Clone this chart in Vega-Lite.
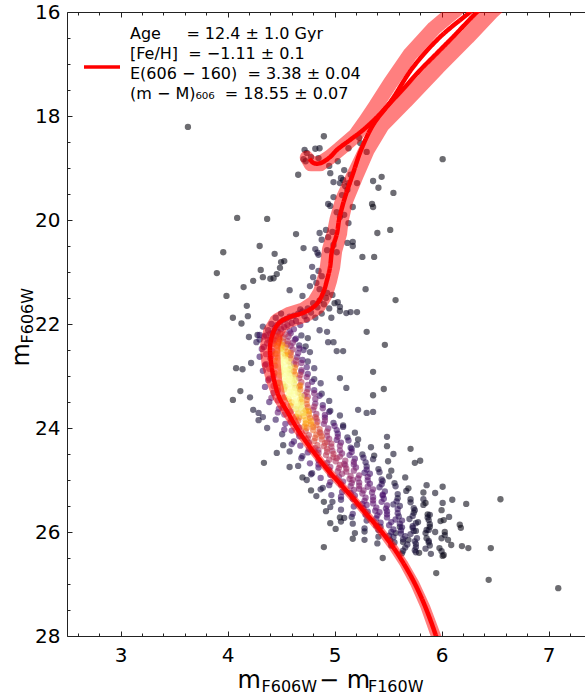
{
"$schema":"https://vega.github.io/schema/vega-lite/v6.json",
"width":518,"height":624,
"autosize":{"type":"none"},
"padding":{"left":67,"top":12,"right":0,"bottom":57},
"background":"white",
"config":{
 "font":"DejaVu Sans",
 "view":{"stroke":null},
 "style":{"guide-label":{"lineHeight":20}},
 "axis":{"grid":false,"domainColor":"#222","domainWidth":1,"tickColor":"#222","tickWidth":1,"labelFont":"DejaVu Sans","labelFontSize":20,"labelColor":"#000","titleFont":"DejaVu Sans","titleColor":"#000","titleFontWeight":"normal"},
 "legend":{"labelFont":"DejaVu Sans","labelColor":"#000"}
},
"datasets":{
"stars":[
{"c":3.63,"m":18.21,"d":0.01},{"c":4.09,"m":19.96,"d":0.01},{"c":3.96,"m":20.62,"d":0.01},{"c":3.90,"m":21.02,"d":0.01},{"c":3.99,"m":21.46,"d":0.01},{"c":4.15,"m":21.29,"d":0.02},{"c":4.30,"m":20.50,"d":0.02},{"c":4.37,"m":19.98,"d":0.01},{"c":4.53,"m":20.79,"d":0.03},{"c":4.49,"m":20.92,"d":0.03},{"c":4.40,"m":21.13,"d":0.03},{"c":4.31,"m":20.96,"d":0.02},{"c":4.33,"m":21.10,"d":0.02},{"c":4.24,"m":21.17,"d":0.02},{"c":4.64,"m":20.27,"d":0.03},{"c":4.18,"m":21.65,"d":0.03},{"c":4.19,"m":21.85,"d":0.04},{"c":4.05,"m":21.88,"d":0.02},{"c":4.13,"m":21.99,"d":0.03},{"c":4.20,"m":22.25,"d":0.05},{"c":4.28,"m":22.21,"d":0.07},{"c":4.22,"m":22.75,"d":0.06},{"c":4.08,"m":22.85,"d":0.03},{"c":4.14,"m":22.87,"d":0.04},{"c":4.12,"m":23.29,"d":0.03},{"c":4.05,"m":23.46,"d":0.02},{"c":4.21,"m":23.41,"d":0.05},{"c":4.24,"m":23.65,"d":0.06},{"c":4.29,"m":23.71,"d":0.08},{"c":4.33,"m":23.79,"d":0.09},{"c":4.37,"m":24.0,"d":0.08},{"c":4.29,"m":23.85,"d":0.07},{"c":4.34,"m":24.67,"d":0.03},{"c":4.46,"m":24.48,"d":0.05},{"c":4.58,"m":24.75,"d":0.05},{"c":4.44,"m":20.65,"d":0.03},{"c":4.50,"m":20.81,"d":0.03},{"c":4.46,"m":21.04,"d":0.03},{"c":4.43,"m":21.12,"d":0.03},{"c":4.58,"m":21.35,"d":0.05},{"c":4.70,"m":21.46,"d":0.06},
{"c":4.70,"m":24.95,"d":0.04},{"c":4.78,"m":25.2,"d":0.03},{"c":4.90,"m":25.42,"d":0.03},{"c":5.05,"m":25.72,"d":0.03},{"c":4.52,"m":24.33,"d":0.05},{"c":4.90,"m":26.29,"d":0.02},{"c":4.96,"m":25.83,"d":0.03},
{"c":4.90,"m":18.39,"d":0.02},{"c":4.72,"m":18.65,"d":0.04},{"c":4.74,"m":18.71,"d":0.05},{"c":4.82,"m":18.63,"d":0.04},{"c":4.86,"m":18.62,"d":0.04},{"c":4.71,"m":18.83,"d":0.06},{"c":4.73,"m":18.87,"d":0.06},{"c":4.78,"m":18.79,"d":0.05},{"c":5.03,"m":18.87,"d":0.03},{"c":4.95,"m":18.96,"d":0.04},{"c":4.66,"m":19.13,"d":0.02},{"c":4.96,"m":19.10,"d":0.04},{"c":4.85,"m":18.81,"d":0.04},{"c":5.13,"m":18.62,"d":0.03},{"c":5.24,"m":18.52,"d":0.03},{"c":5.23,"m":18.42,"d":0.03},{"c":5.30,"m":18.69,"d":0.03},{"c":6.01,"m":18.83,"d":0.01},{"c":4.99,"m":19.27,"d":0.05},{"c":5.05,"m":19.29,"d":0.05},{"c":5.08,"m":19.23,"d":0.05},{"c":5.13,"m":19.29,"d":0.05},{"c":5.21,"m":19.29,"d":0.04},{"c":5.36,"m":19.25,"d":0.03},{"c":5.44,"m":19.17,"d":0.02},{"c":5.41,"m":19.38,"d":0.02},{"c":5.55,"m":19.48,"d":0.02},{"c":4.99,"m":19.56,"d":0.05},{"c":5.07,"m":19.52,"d":0.05},{"c":5.12,"m":19.42,"d":0.05},{"c":5.09,"m":19.04,"d":0.04},{"c":5.06,"m":19.19,"d":0.05},{"c":5.10,"m":19.35,"d":0.05},{"c":5.15,"m":19.13,"d":0.04},{"c":4.94,"m":19.69,"d":0.05},{"c":4.96,"m":19.73,"d":0.05},{"c":5.35,"m":19.69,"d":0.02},{"c":5.36,"m":19.75,"d":0.02},{"c":5.17,"m":19.75,"d":0.04},{"c":5.02,"m":19.85,"d":0.06},{"c":5.05,"m":19.94,"d":0.06},{"c":5.09,"m":19.90,"d":0.06},{"c":5.13,"m":20.06,"d":0.05},{"c":4.86,"m":20.25,"d":0.06},{"c":4.92,"m":20.19,"d":0.06},{"c":4.94,"m":20.33,"d":0.07},{"c":4.98,"m":20.23,"d":0.07},{"c":4.88,"m":20.38,"d":0.07},{"c":4.71,"m":20.54,"d":0.04},{"c":4.82,"m":20.56,"d":0.07},{"c":4.84,"m":20.63,"d":0.08},{"c":4.85,"m":20.67,"d":0.08},{"c":4.93,"m":20.58,"d":0.08},{"c":4.99,"m":20.48,"d":0.07},{"c":5.02,"m":20.62,"d":0.07},{"c":5.12,"m":20.44,"d":0.05},{"c":5.17,"m":20.50,"d":0.04},{"c":5.17,"m":20.42,"d":0.04},{"c":5.26,"m":20.71,"d":0.03},{"c":5.37,"m":20.71,"d":0.02},{"c":5.40,"m":20.25,"d":0.02},{"c":4.79,"m":20.90,"d":0.08},{"c":4.85,"m":20.98,"d":0.08},{"c":4.80,"m":21.10,"d":0.08},{"c":4.88,"m":21.08,"d":0.08},{"c":4.83,"m":21.21,"d":0.08},{"c":4.77,"m":21.27,"d":0.07},{"c":4.86,"m":21.33,"d":0.08},{"c":4.93,"m":21.40,"d":0.07},{"c":4.98,"m":21.44,"d":0.06},
{"c":5.29,"m":21.33,"d":0.03},{"c":5.21,"m":21.77,"d":0.04},{"c":5.15,"m":21.77,"d":0.05},{"c":5.11,"m":21.79,"d":0.05},{"c":5.03,"m":21.58,"d":0.05},{"c":5.05,"m":21.67,"d":0.05},{"c":5.30,"m":22.15,"d":0.03},{"c":5.36,"m":22.92,"d":0.03},{"c":5.46,"m":23.25,"d":0.02},{"c":5.36,"m":23.37,"d":0.03},{"c":5.02,"m":22.52,"d":0.06},{"c":5.08,"m":22.52,"d":0.05},{"c":4.94,"m":22.35,"d":0.07},{"c":4.99,"m":22.35,"d":0.06},{"c":4.93,"m":22.15,"d":0.07},{"c":4.86,"m":22.12,"d":0.08},{"c":5.05,"m":23.04,"d":0.06},{"c":5.11,"m":23.23,"d":0.06},{"c":5.55,"m":24.5,"d":0.05},{"c":5.49,"m":24.17,"d":0.05},{"c":5.36,"m":23.69,"d":0.05},{"c":5.30,"m":23.71,"d":0.06},{"c":5.22,"m":23.65,"d":0.07},{"c":5.52,"m":20.19,"d":0.01},{"c":5.57,"m":21.54,"d":0.01},{"c":5.47,"m":22.40,"d":0.02},
{"c":6.55,"m":25.37,"d":0.01},{"c":6.23,"m":25.46,"d":0.02},{"c":6.18,"m":25.92,"d":0.02},{"c":6.46,"m":26.31,"d":0.01},{"c":6.44,"m":26.92,"d":0.01},{"c":7.09,"m":27.08,"d":0.01},{"c":5.95,"m":26.79,"d":0.01},{"c":6.02,"m":26.44,"d":0.02},{"c":6.09,"m":26.25,"d":0.02},{"c":5.79,"m":26.40,"d":0.02},{"c":5.45,"m":26.50,"d":0.02},{"c":5.71,"m":24.40,"d":0.02},{"c":5.49,"m":24.35,"d":0.03},{"c":5.75,"m":24.67,"d":0.03},{"c":5.80,"m":24.63,"d":0.03},{"c":5.86,"m":25.10,"d":0.04},{"c":6.01,"m":25.13,"d":0.03},{"c":6.10,"m":25.38,"d":0.03},{"c":6.01,"m":25.44,"d":0.04},{"c":5.94,"m":25.25,"d":0.04},{"c":5.89,"m":25.67,"d":0.05},{"c":6.07,"m":25.71,"d":0.04},{"c":5.88,"m":25.77,"d":0.05},{"c":5.86,"m":25.96,"d":0.05},{"c":5.86,"m":26.12,"d":0.04},{"c":5.94,"m":26.00,"d":0.04},{"c":6.00,"m":26.12,"d":0.04},{"c":6.06,"m":26.15,"d":0.03},{"c":6.19,"m":26.27,"d":0.02},{"c":6.25,"m":26.31,"d":0.02},{"c":5.98,"m":26.31,"d":0.03},{"c":6.01,"m":26.46,"d":0.02},{"c":5.69,"m":26.15,"d":0.05},{"c":5.64,"m":26.19,"d":0.05},{"c":5.76,"m":25.98,"d":0.06},{"c":5.61,"m":25.90,"d":0.07},{"c":5.57,"m":26.02,"d":0.07},{"c":5.83,"m":25.37,"d":0.06},{"c":5.75,"m":25.58,"d":0.07},{"c":5.78,"m":25.81,"d":0.06},
{"c":4.80,"m":21.60,"d":0.08},{"c":4.86,"m":21.55,"d":0.08},{"c":4.92,"m":21.50,"d":0.06},{"c":4.75,"m":21.70,"d":0.1},{"c":4.70,"m":21.76,"d":0.12},{"c":4.66,"m":21.80,"d":0.12},{"c":4.62,"m":21.84,"d":0.14},{"c":4.58,"m":21.86,"d":0.15},{"c":4.55,"m":21.90,"d":0.16},{"c":4.52,"m":21.93,"d":0.18},{"c":4.49,"m":21.97,"d":0.2},{"c":4.46,"m":22.02,"d":0.22},{"c":4.44,"m":22.08,"d":0.22},{"c":4.78,"m":21.78,"d":0.1},{"c":4.72,"m":21.85,"d":0.12},{"c":4.68,"m":21.72,"d":0.1},{"c":4.64,"m":21.94,"d":0.14},{"c":4.60,"m":21.98,"d":0.17},{"c":4.56,"m":22.02,"d":0.2},{"c":4.53,"m":22.06,"d":0.22},{"c":4.50,"m":22.10,"d":0.24},{"c":4.47,"m":22.15,"d":0.25},{"c":4.42,"m":22.18,"d":0.22},{"c":4.38,"m":22.12,"d":0.14},{"c":4.36,"m":22.22,"d":0.16},{"c":4.40,"m":22.30,"d":0.24},{"c":4.90,"m":21.62,"d":0.06},{"c":4.95,"m":21.70,"d":0.05},{"c":4.84,"m":21.68,"d":0.08},{"c":5.00,"m":21.60,"d":0.04},{"c":4.74,"m":21.92,"d":0.12},{"c":4.68,"m":22.02,"d":0.16},{"c":4.62,"m":22.10,"d":0.22},{"c":4.58,"m":22.14,"d":0.26},{"c":4.82,"m":21.88,"d":0.08},{"c":4.88,"m":21.80,"d":0.06},{"c":5.05,"m":21.75,"d":0.04},{"c":4.97,"m":21.88,"d":0.05},{"c":4.45,"m":21.88,"d":0.12},{"c":4.41,"m":22.00,"d":0.14},{"c":4.50,"m":21.80,"d":0.1},{"c":4.33,"m":22.05,"d":0.1},{"c":4.30,"m":22.30,"d":0.12},
{"c":4.30,"m":22.21,"d":0.15},{"c":4.40,"m":22.18,"d":0.33},{"c":4.45,"m":22.23,"d":0.5},{"c":4.49,"m":22.19,"d":0.5},{"c":4.54,"m":22.20,"d":0.43},{"c":4.59,"m":22.18,"d":0.23},{"c":4.69,"m":22.22,"d":0.09},
{"c":4.34,"m":22.24,"d":0.25},{"c":4.43,"m":22.29,"d":0.48},{"c":4.48,"m":22.25,"d":0.56},{"c":4.52,"m":22.26,"d":0.48},{"c":4.57,"m":22.24,"d":0.36},{"c":4.64,"m":22.28,"d":0.17},{"c":4.75,"m":22.27,"d":0.06},
{"c":4.27,"m":22.35,"d":0.11},{"c":4.38,"m":22.31,"d":0.40},{"c":4.44,"m":22.32,"d":0.53},{"c":4.49,"m":22.30,"d":0.62},{"c":4.52,"m":22.34,"d":0.53},{"c":4.56,"m":22.33,"d":0.40},{"c":4.63,"m":22.30,"d":0.19},
{"c":4.37,"m":22.37,"d":0.31},{"c":4.43,"m":22.38,"d":0.58},{"c":4.48,"m":22.36,"d":0.68},{"c":4.51,"m":22.40,"d":0.68},{"c":4.56,"m":22.39,"d":0.44},{"c":4.61,"m":22.36,"d":0.31},{"c":4.67,"m":22.41,"d":0.12},
{"c":4.34,"m":22.44,"d":0.22},{"c":4.46,"m":22.42,"d":0.74},{"c":4.50,"m":22.46,"d":0.74},{"c":4.54,"m":22.45,"d":0.63},{"c":4.59,"m":22.42,"d":0.33},{"c":4.67,"m":22.47,"d":0.22},{"c":4.73,"m":22.43,"d":0.07},
{"c":4.32,"m":22.48,"d":0.24},{"c":4.42,"m":22.52,"d":0.52},{"c":4.47,"m":22.51,"d":0.80},{"c":4.51,"m":22.48,"d":0.80},{"c":4.56,"m":22.53,"d":0.68},{"c":4.61,"m":22.49,"d":0.36},{"c":4.71,"m":22.50,"d":0.14},
{"c":4.36,"m":22.58,"d":0.38},{"c":4.45,"m":22.57,"d":0.71},{"c":4.50,"m":22.54,"d":0.84},{"c":4.54,"m":22.59,"d":0.71},{"c":4.59,"m":22.55,"d":0.55},{"c":4.66,"m":22.56,"d":0.25},{"c":4.77,"m":22.54,"d":0.08},
{"c":4.30,"m":22.63,"d":0.16},{"c":4.41,"m":22.60,"d":0.57},{"c":4.47,"m":22.65,"d":0.75},{"c":4.51,"m":22.61,"d":0.88},{"c":4.54,"m":22.62,"d":0.75},{"c":4.59,"m":22.60,"d":0.57},{"c":4.65,"m":22.64,"d":0.26},
{"c":4.40,"m":22.66,"d":0.41},{"c":4.45,"m":22.71,"d":0.78},{"c":4.50,"m":22.67,"d":0.92},{"c":4.54,"m":22.68,"d":0.92},{"c":4.59,"m":22.66,"d":0.60},{"c":4.64,"m":22.70,"d":0.41},{"c":4.70,"m":22.69,"d":0.17},
{"c":4.36,"m":22.77,"d":0.29},{"c":4.49,"m":22.73,"d":0.96},{"c":4.53,"m":22.74,"d":0.96},{"c":4.57,"m":22.72,"d":0.82},{"c":4.62,"m":22.76,"d":0.43},{"c":4.69,"m":22.75,"d":0.29},{"c":4.75,"m":22.72,"d":0.10},
{"c":4.35,"m":22.79,"d":0.30},{"c":4.45,"m":22.80,"d":0.65},{"c":4.50,"m":22.78,"d":1.0},{"c":4.54,"m":22.82,"d":1.0},{"c":4.59,"m":22.81,"d":0.85},{"c":4.64,"m":22.78,"d":0.45},{"c":4.74,"m":22.83,"d":0.18},
{"c":4.39,"m":22.86,"d":0.45},{"c":4.49,"m":22.84,"d":0.85},{"c":4.53,"m":22.88,"d":1.0},{"c":4.58,"m":22.87,"d":0.85},{"c":4.63,"m":22.84,"d":0.65},{"c":4.69,"m":22.89,"d":0.30},{"c":4.81,"m":22.85,"d":0.10},
{"c":4.33,"m":22.90,"d":0.18},{"c":4.44,"m":22.94,"d":0.65},{"c":4.50,"m":22.93,"d":0.85},{"c":4.55,"m":22.90,"d":1.0},{"c":4.58,"m":22.95,"d":0.85},{"c":4.62,"m":22.91,"d":0.65},{"c":4.69,"m":22.92,"d":0.30},
{"c":4.43,"m":23.00,"d":0.45},{"c":4.49,"m":22.99,"d":0.85},{"c":4.54,"m":22.96,"d":1.0},{"c":4.58,"m":23.01,"d":1.0},{"c":4.63,"m":22.97,"d":0.65},{"c":4.68,"m":22.98,"d":0.45},{"c":4.75,"m":22.96,"d":0.18},
{"c":4.39,"m":23.05,"d":0.30},{"c":4.53,"m":23.02,"d":1.0},{"c":4.57,"m":23.07,"d":1.0},{"c":4.61,"m":23.03,"d":0.85},{"c":4.67,"m":23.04,"d":0.45},{"c":4.74,"m":23.02,"d":0.30},{"c":4.81,"m":23.06,"d":0.10},
{"c":4.38,"m":23.08,"d":0.30},{"c":4.48,"m":23.13,"d":0.65},{"c":4.54,"m":23.09,"d":1.0},{"c":4.59,"m":23.10,"d":1.0},{"c":4.63,"m":23.08,"d":0.85},{"c":4.69,"m":23.12,"d":0.45},{"c":4.79,"m":23.11,"d":0.18},
{"c":4.43,"m":23.19,"d":0.45},{"c":4.52,"m":23.15,"d":0.84},{"c":4.58,"m":23.16,"d":0.99},{"c":4.62,"m":23.14,"d":0.84},{"c":4.68,"m":23.18,"d":0.64},{"c":4.75,"m":23.17,"d":0.30},{"c":4.87,"m":23.14,"d":0.10},
{"c":4.35,"m":23.21,"d":0.18},{"c":4.47,"m":23.22,"d":0.64},{"c":4.54,"m":23.20,"d":0.83},{"c":4.59,"m":23.24,"d":0.98},{"c":4.63,"m":23.23,"d":0.83},{"c":4.67,"m":23.20,"d":0.64},{"c":4.75,"m":23.25,"d":0.29},
{"c":4.47,"m":23.28,"d":0.44},{"c":4.53,"m":23.26,"d":0.82},{"c":4.58,"m":23.30,"d":0.97},{"c":4.62,"m":23.29,"d":0.97},{"c":4.68,"m":23.26,"d":0.63},{"c":4.74,"m":23.31,"d":0.44},{"c":4.81,"m":23.27,"d":0.17},
{"c":4.43,"m":23.32,"d":0.29},{"c":4.57,"m":23.36,"d":0.96},{"c":4.62,"m":23.35,"d":0.96},{"c":4.66,"m":23.32,"d":0.82},{"c":4.72,"m":23.37,"d":0.43},{"c":4.81,"m":23.33,"d":0.29},{"c":4.88,"m":23.34,"d":0.10},
{"c":4.41,"m":23.42,"d":0.29},{"c":4.53,"m":23.41,"d":0.62},{"c":4.59,"m":23.38,"d":0.95},{"c":4.64,"m":23.43,"d":0.95},{"c":4.69,"m":23.39,"d":0.81},{"c":4.75,"m":23.40,"d":0.43},{"c":4.86,"m":23.38,"d":0.17},
{"c":4.47,"m":23.47,"d":0.41},{"c":4.57,"m":23.44,"d":0.78},{"c":4.63,"m":23.49,"d":0.92},{"c":4.68,"m":23.45,"d":0.78},{"c":4.74,"m":23.46,"d":0.60},{"c":4.82,"m":23.44,"d":0.28},{"c":4.95,"m":23.48,"d":0.09},
{"c":4.39,"m":23.50,"d":0.16},{"c":4.52,"m":23.55,"d":0.58},{"c":4.60,"m":23.51,"d":0.76},{"c":4.65,"m":23.52,"d":0.89},{"c":4.69,"m":23.50,"d":0.76},{"c":4.74,"m":23.54,"d":0.58},{"c":4.82,"m":23.53,"d":0.27},
{"c":4.52,"m":23.61,"d":0.39},{"c":4.59,"m":23.57,"d":0.73},{"c":4.65,"m":23.58,"d":0.86},{"c":4.69,"m":23.56,"d":0.86},{"c":4.75,"m":23.60,"d":0.56},{"c":4.81,"m":23.59,"d":0.39},{"c":4.89,"m":23.56,"d":0.15},
{"c":4.48,"m":23.63,"d":0.25},{"c":4.64,"m":23.64,"d":0.83},{"c":4.69,"m":23.62,"d":0.83},{"c":4.73,"m":23.66,"d":0.71},{"c":4.80,"m":23.65,"d":0.37},{"c":4.89,"m":23.62,"d":0.25},{"c":4.96,"m":23.67,"d":0.08},
{"c":4.47,"m":23.70,"d":0.24},{"c":4.59,"m":23.68,"d":0.52},{"c":4.66,"m":23.72,"d":0.80},{"c":4.71,"m":23.71,"d":0.80},{"c":4.76,"m":23.68,"d":0.68},{"c":4.83,"m":23.73,"d":0.36},{"c":4.95,"m":23.69,"d":0.14},
{"c":4.53,"m":23.74,"d":0.34},{"c":4.64,"m":23.78,"d":0.65},{"c":4.71,"m":23.77,"d":0.76},{"c":4.76,"m":23.74,"d":0.65},{"c":4.82,"m":23.79,"d":0.49},{"c":4.91,"m":23.75,"d":0.23},{"c":5.05,"m":23.76,"d":0.08},
{"c":4.45,"m":23.84,"d":0.13},{"c":4.59,"m":23.83,"d":0.47},{"c":4.67,"m":23.80,"d":0.62},{"c":4.73,"m":23.85,"d":0.73},{"c":4.77,"m":23.81,"d":0.62},{"c":4.83,"m":23.82,"d":0.47},{"c":4.91,"m":23.80,"d":0.22},
{"c":4.59,"m":23.89,"d":0.31},{"c":4.66,"m":23.86,"d":0.59},{"c":4.73,"m":23.91,"d":0.69},{"c":4.78,"m":23.87,"d":0.69},{"c":4.84,"m":23.88,"d":0.45},{"c":4.91,"m":23.86,"d":0.31},{"c":4.99,"m":23.90,"d":0.12},
{"c":4.54,"m":23.92,"d":0.20},{"c":4.72,"m":23.97,"d":0.66},{"c":4.78,"m":23.93,"d":0.66},{"c":4.83,"m":23.94,"d":0.56},{"c":4.90,"m":23.92,"d":0.30},{"c":5.00,"m":23.96,"d":0.20},{"c":5.08,"m":23.95,"d":0.07},
{"c":4.53,"m":24.03,"d":0.19},{"c":4.67,"m":23.99,"d":0.40},{"c":4.74,"m":24.00,"d":0.62},{"c":4.80,"m":23.98,"d":0.62},{"c":4.86,"m":24.02,"d":0.53},{"c":4.94,"m":24.01,"d":0.28},{"c":5.08,"m":23.98,"d":0.11},
{"c":4.60,"m":24.05,"d":0.27},{"c":4.73,"m":24.06,"d":0.51},{"c":4.80,"m":24.04,"d":0.60},{"c":4.86,"m":24.08,"d":0.51},{"c":4.93,"m":24.07,"d":0.39},{"c":5.02,"m":24.04,"d":0.18},{"c":5.19,"m":24.09,"d":0.06},
{"c":4.51,"m":24.12,"d":0.10},{"c":4.67,"m":24.10,"d":0.37},{"c":4.76,"m":24.14,"d":0.48},{"c":4.83,"m":24.13,"d":0.57},{"c":4.87,"m":24.10,"d":0.48},{"c":4.93,"m":24.15,"d":0.37},{"c":5.03,"m":24.11,"d":0.17},
{"c":4.67,"m":24.16,"d":0.25},{"c":4.75,"m":24.20,"d":0.47},{"c":4.82,"m":24.19,"d":0.55},{"c":4.88,"m":24.16,"d":0.55},{"c":4.95,"m":24.21,"d":0.36},{"c":5.03,"m":24.17,"d":0.25},{"c":5.12,"m":24.18,"d":0.10},
{"c":4.62,"m":24.26,"d":0.16},{"c":4.81,"m":24.25,"d":0.52},{"c":4.88,"m":24.22,"d":0.52},{"c":4.93,"m":24.27,"d":0.44},{"c":5.02,"m":24.23,"d":0.23},{"c":5.13,"m":24.24,"d":0.16},{"c":5.22,"m":24.22,"d":0.05},
{"c":4.60,"m":24.31,"d":0.15},{"c":4.76,"m":24.28,"d":0.33},{"c":4.84,"m":24.33,"d":0.50},{"c":4.91,"m":24.29,"d":0.50},{"c":4.97,"m":24.30,"d":0.43},{"c":5.06,"m":24.28,"d":0.23},{"c":5.21,"m":24.32,"d":0.09},
{"c":4.68,"m":24.34,"d":0.22},{"c":4.82,"m":24.39,"d":0.41},{"c":4.90,"m":24.35,"d":0.48},{"c":4.97,"m":24.36,"d":0.41},{"c":5.05,"m":24.34,"d":0.31},{"c":5.15,"m":24.38,"d":0.14},{"c":5.34,"m":24.37,"d":0.05},
{"c":4.58,"m":24.45,"d":0.08},{"c":4.76,"m":24.41,"d":0.31},{"c":4.85,"m":24.42,"d":0.40},{"c":4.93,"m":24.40,"d":0.47},{"c":4.98,"m":24.44,"d":0.40},{"c":5.05,"m":24.43,"d":0.31},{"c":5.16,"m":24.40,"d":0.14},
{"c":4.75,"m":24.47,"d":0.20},{"c":4.85,"m":24.48,"d":0.38},{"c":4.93,"m":24.46,"d":0.45},{"c":4.99,"m":24.50,"d":0.45},{"c":5.07,"m":24.49,"d":0.29},{"c":5.16,"m":24.46,"d":0.20},{"c":5.26,"m":24.51,"d":0.08},
{"c":4.70,"m":24.54,"d":0.13},{"c":4.92,"m":24.52,"d":0.44},{"c":4.99,"m":24.56,"d":0.44},{"c":5.05,"m":24.55,"d":0.37},{"c":5.14,"m":24.52,"d":0.20},{"c":5.27,"m":24.57,"d":0.13},{"c":5.37,"m":24.53,"d":0.04},
{"c":4.69,"m":24.58,"d":0.13},{"c":4.85,"m":24.62,"d":0.27},{"c":4.95,"m":24.61,"d":0.42},{"c":5.02,"m":24.58,"d":0.42},{"c":5.10,"m":24.63,"d":0.36},{"c":5.19,"m":24.59,"d":0.19},{"c":5.36,"m":24.60,"d":0.08},
{"c":4.77,"m":24.68,"d":0.18},{"c":4.93,"m":24.67,"d":0.35},{"c":5.01,"m":24.64,"d":0.41},{"c":5.09,"m":24.69,"d":0.35},{"c":5.18,"m":24.65,"d":0.27},{"c":5.29,"m":24.66,"d":0.12},{"c":5.50,"m":24.64,"d":0.04},
{"c":4.66,"m":24.73,"d":0.07},{"c":4.85,"m":24.70,"d":0.26},{"c":4.96,"m":24.75,"d":0.34},{"c":5.05,"m":24.71,"d":0.40},{"c":5.10,"m":24.72,"d":0.34},{"c":5.18,"m":24.70,"d":0.26},{"c":5.30,"m":24.74,"d":0.12},
{"c":4.85,"m":24.76,"d":0.17},{"c":4.95,"m":24.81,"d":0.32},{"c":5.04,"m":24.77,"d":0.38},{"c":5.11,"m":24.78,"d":0.38},{"c":5.20,"m":24.76,"d":0.25},{"c":5.30,"m":24.80,"d":0.17},{"c":5.41,"m":24.79,"d":0.07},
{"c":4.79,"m":24.87,"d":0.11},{"c":5.03,"m":24.83,"d":0.37},{"c":5.11,"m":24.84,"d":0.37},{"c":5.18,"m":24.82,"d":0.31},{"c":5.28,"m":24.86,"d":0.17},{"c":5.42,"m":24.85,"d":0.11},{"c":5.53,"m":24.82,"d":0.04},
{"c":4.78,"m":24.89,"d":0.11},{"c":4.96,"m":24.90,"d":0.23},{"c":5.07,"m":24.88,"d":0.36},{"c":5.15,"m":24.92,"d":0.36},{"c":5.23,"m":24.91,"d":0.31},{"c":5.33,"m":24.88,"d":0.16},{"c":5.51,"m":24.93,"d":0.06},
{"c":4.87,"m":24.96,"d":0.16},{"c":5.04,"m":24.94,"d":0.30},{"c":5.14,"m":24.98,"d":0.35},{"c":5.22,"m":24.97,"d":0.30},{"c":5.31,"m":24.94,"d":0.23},{"c":5.44,"m":24.99,"d":0.11},{"c":5.66,"m":24.95,"d":0.04},
{"c":4.74,"m":25.00,"d":0.06},{"c":4.96,"m":25.04,"d":0.22},{"c":5.08,"m":25.03,"d":0.29},{"c":5.17,"m":25.00,"d":0.34},{"c":5.23,"m":25.05,"d":0.29},{"c":5.31,"m":25.01,"d":0.22},{"c":5.45,"m":25.02,"d":0.10},
{"c":4.95,"m":25.10,"d":0.14},{"c":5.06,"m":25.09,"d":0.27},{"c":5.16,"m":25.06,"d":0.32},{"c":5.23,"m":25.11,"d":0.32},{"c":5.33,"m":25.07,"d":0.21},{"c":5.44,"m":25.08,"d":0.14},{"c":5.56,"m":25.06,"d":0.06},
{"c":4.89,"m":25.15,"d":0.09},{"c":5.15,"m":25.12,"d":0.31},{"c":5.23,"m":25.17,"d":0.31},{"c":5.31,"m":25.13,"d":0.26},{"c":5.42,"m":25.14,"d":0.14},{"c":5.57,"m":25.12,"d":0.09},{"c":5.69,"m":25.16,"d":0.03},
{"c":4.87,"m":25.18,"d":0.09},{"c":5.07,"m":25.23,"d":0.20},{"c":5.18,"m":25.19,"d":0.30},{"c":5.27,"m":25.20,"d":0.30},{"c":5.36,"m":25.18,"d":0.26},{"c":5.47,"m":25.22,"d":0.14},{"c":5.67,"m":25.21,"d":0.05},
{"c":4.97,"m":25.29,"d":0.13},{"c":5.15,"m":25.25,"d":0.25},{"c":5.26,"m":25.26,"d":0.29},{"c":5.35,"m":25.24,"d":0.25},{"c":5.45,"m":25.28,"d":0.19},{"c":5.59,"m":25.27,"d":0.09},{"c":5.83,"m":25.24,"d":0.03},
{"c":4.83,"m":25.31,"d":0.05},{"c":5.06,"m":25.32,"d":0.18},{"c":5.19,"m":25.30,"d":0.23},{"c":5.29,"m":25.34,"d":0.27},{"c":5.36,"m":25.33,"d":0.23},{"c":5.45,"m":25.30,"d":0.18},{"c":5.59,"m":25.35,"d":0.08},
{"c":5.06,"m":25.38,"d":0.12},{"c":5.17,"m":25.36,"d":0.22},{"c":5.28,"m":25.40,"d":0.26},{"c":5.36,"m":25.39,"d":0.26},{"c":5.46,"m":25.36,"d":0.17},{"c":5.58,"m":25.41,"d":0.12},{"c":5.71,"m":25.37,"d":0.05},
{"c":4.98,"m":25.42,"d":0.07},{"c":5.26,"m":25.46,"d":0.24},{"c":5.36,"m":25.45,"d":0.24},{"c":5.44,"m":25.42,"d":0.20},{"c":5.55,"m":25.47,"d":0.11},{"c":5.71,"m":25.43,"d":0.07},{"c":5.85,"m":25.44,"d":0.02},
{"c":4.96,"m":25.52,"d":0.07},{"c":5.18,"m":25.51,"d":0.15},{"c":5.30,"m":25.48,"d":0.23},{"c":5.39,"m":25.53,"d":0.23},{"c":5.49,"m":25.49,"d":0.20},{"c":5.61,"m":25.50,"d":0.10},{"c":5.83,"m":25.48,"d":0.04},
{"c":5.06,"m":25.57,"d":0.10},{"c":5.27,"m":25.54,"d":0.19},{"c":5.38,"m":25.59,"d":0.22},{"c":5.48,"m":25.55,"d":0.19},{"c":5.59,"m":25.56,"d":0.14},{"c":5.74,"m":25.54,"d":0.07},{"c":6.00,"m":25.58,"d":0.02},
{"c":4.92,"m":25.60,"d":0.04},{"c":5.17,"m":25.65,"d":0.14},{"c":5.31,"m":25.61,"d":0.18},{"c":5.42,"m":25.62,"d":0.21},{"c":5.49,"m":25.60,"d":0.18},{"c":5.59,"m":25.64,"d":0.14},{"c":5.74,"m":25.63,"d":0.06},
{"c":5.16,"m":25.71,"d":0.09},{"c":5.29,"m":25.67,"d":0.16},{"c":5.40,"m":25.68,"d":0.19},{"c":5.49,"m":25.66,"d":0.19},{"c":5.60,"m":25.70,"d":0.12},{"c":5.73,"m":25.69,"d":0.09},{"c":5.87,"m":25.66,"d":0.03},
{"c":5.09,"m":25.73,"d":0.05},{"c":5.39,"m":25.74,"d":0.18},{"c":5.49,"m":25.72,"d":0.18},{"c":5.57,"m":25.76,"d":0.15},{"c":5.70,"m":25.75,"d":0.08},{"c":5.87,"m":25.72,"d":0.05},{"c":6.02,"m":25.77,"d":0.02},
{"c":5.06,"m":25.80,"d":0.05},{"c":5.30,"m":25.78,"d":0.11},{"c":5.43,"m":25.82,"d":0.17},{"c":5.53,"m":25.81,"d":0.17},{"c":5.63,"m":25.78,"d":0.14},{"c":5.76,"m":25.83,"d":0.08},{"c":5.99,"m":25.79,"d":0.03},
{"c":5.17,"m":25.84,"d":0.07},{"c":5.39,"m":25.88,"d":0.14},{"c":5.51,"m":25.87,"d":0.16},{"c":5.61,"m":25.84,"d":0.14},{"c":5.73,"m":25.89,"d":0.10},{"c":5.89,"m":25.85,"d":0.05},{"c":6.17,"m":25.86,"d":0.02},
{"c":5.01,"m":25.94,"d":0.03},{"c":5.28,"m":25.93,"d":0.09},{"c":5.43,"m":25.90,"d":0.12},{"c":5.55,"m":25.95,"d":0.14},{"c":5.63,"m":25.91,"d":0.12},{"c":5.73,"m":25.92,"d":0.09},{"c":5.89,"m":25.90,"d":0.04},
{"c":5.28,"m":25.99,"d":0.06},{"c":5.41,"m":25.96,"d":0.11},{"c":5.53,"m":26.00,"d":0.13},{"c":5.62,"m":25.97,"d":0.13},{"c":5.74,"m":25.98,"d":0.08},{"c":5.88,"m":25.96,"d":0.06},{"c":6.03,"m":26.00,"d":0.02},
{"c":5.19,"m":26.02,"d":0.04},{"c":5.51,"m":26.07,"d":0.12},{"c":5.62,"m":26.03,"d":0.12},{"c":5.71,"m":26.04,"d":0.10},{"c":5.85,"m":26.02,"d":0.05},{"c":6.03,"m":26.06,"d":0.04},
{"c":5.17,"m":26.13,"d":0.03},{"c":5.41,"m":26.09,"d":0.07},{"c":5.55,"m":26.10,"d":0.11},{"c":5.66,"m":26.08,"d":0.11},{"c":5.77,"m":26.12,"d":0.09},
{"c":5.28,"m":26.15,"d":0.05},{"c":5.52,"m":26.16,"d":0.09},{"c":5.64,"m":26.14,"d":0.10},{"c":5.75,"m":26.18,"d":0.09},{"c":5.88,"m":26.17,"d":0.07},
{"c":5.40,"m":26.22,"d":0.06},{"c":5.56,"m":26.20,"d":0.08},{"c":5.68,"m":26.24,"d":0.09},{"c":5.76,"m":26.23,"d":0.08},{"c":5.88,"m":26.20,"d":0.06},
{"c":5.53,"m":26.26,"d":0.07},{"c":5.66,"m":26.30,"d":0.08},{"c":5.76,"m":26.29,"d":0.08},{"c":5.89,"m":26.26,"d":0.06},
{"c":5.64,"m":26.36,"d":0.08},{"c":5.75,"m":26.35,"d":0.08},{"c":5.85,"m":26.32,"d":0.07},{"c":6.00,"m":26.37,"d":0.04},
{"c":5.63,"m":26.41,"d":0.06},{"c":5.76,"m":26.39,"d":0.07},{"c":5.90,"m":26.42,"d":0.05}
],
"line":[
{"seg":"rgb","i":0,"c":5.975,"m":28.2},{"seg":"rgb","i":1,"c":5.951,"m":28.02},{"seg":"rgb","i":2,"c":5.848,"m":27.44},{"seg":"rgb","i":3,"c":5.747,"m":26.98},{"seg":"rgb","i":4,"c":5.644,"m":26.6},{"seg":"rgb","i":5,"c":5.547,"m":26.29},{"seg":"rgb","i":6,"c":5.425,"m":25.96},{"seg":"rgb","i":7,"c":5.266,"m":25.58},{"seg":"rgb","i":8,"c":5.164,"m":25.33},{"seg":"rgb","i":9,"c":5.047,"m":25.06},{"seg":"rgb","i":10,"c":4.963,"m":24.87},{"seg":"rgb","i":11,"c":4.883,"m":24.67},{"seg":"rgb","i":12,"c":4.771,"m":24.37},{"seg":"rgb","i":13,"c":4.659,"m":24.04},{"seg":"rgb","i":14,"c":4.565,"m":23.71},{"seg":"rgb","i":15,"c":4.481,"m":23.4},{"seg":"rgb","i":16,"c":4.435,"m":23.08},{"seg":"rgb","i":17,"c":4.407,"m":22.75},{"seg":"rgb","i":18,"c":4.397,"m":22.44},{"seg":"rgb","i":19,"c":4.425,"m":22.17},{"seg":"rgb","i":20,"c":4.481,"m":21.98},{"seg":"rgb","i":21,"c":4.575,"m":21.87},{"seg":"rgb","i":22,"c":4.724,"m":21.77},{"seg":"rgb","i":23,"c":4.827,"m":21.63},{"seg":"rgb","i":24,"c":4.893,"m":21.4},{"seg":"rgb","i":25,"c":4.93,"m":21.15},{"seg":"rgb","i":26,"c":4.958,"m":20.9},{"seg":"rgb","i":27,"c":4.977,"m":20.58},{"seg":"rgb","i":28,"c":5.023,"m":20.25},{"seg":"rgb","i":29,"c":5.042,"m":20.0},{"seg":"rgb","i":30,"c":5.089,"m":19.62},{"seg":"rgb","i":31,"c":5.173,"m":19.1},{"seg":"rgb","i":32,"c":5.248,"m":18.65},{"seg":"rgb","i":33,"c":5.36,"m":18.17},{"seg":"rgb","i":34,"c":5.528,"m":17.71},{"seg":"rgb","i":35,"c":5.734,"m":17.06},{"seg":"rgb","i":36,"c":5.986,"m":16.48},{"seg":"rgb","i":37,"c":6.266,"m":16.0},{"seg":"rgb","i":38,"c":6.33,"m":15.88},
{"seg":"agb","i":0,"c":4.765,"m":18.82},{"seg":"agb","i":1,"c":4.80,"m":18.90},{"seg":"agb","i":2,"c":4.85,"m":18.915},{"seg":"agb","i":3,"c":4.90,"m":18.875},{"seg":"agb","i":4,"c":4.958,"m":18.79},{"seg":"agb","i":5,"c":5.023,"m":18.65},{"seg":"agb","i":6,"c":5.145,"m":18.46},{"seg":"agb","i":7,"c":5.266,"m":18.27},{"seg":"agb","i":8,"c":5.397,"m":18.02},{"seg":"agb","i":9,"c":5.519,"m":17.75},{"seg":"agb","i":10,"c":5.659,"m":17.44},{"seg":"agb","i":11,"c":5.799,"m":17.12},{"seg":"agb","i":12,"c":5.958,"m":16.79},{"seg":"agb","i":13,"c":6.107,"m":16.48},{"seg":"agb","i":14,"c":6.332,"m":16.0},{"seg":"agb","i":15,"c":6.4,"m":15.88}
],
"band":[
{"seg":"b1","i":0,"c":5.975,"m":28.2,"w":0.095},{"seg":"b1","i":1,"c":5.951,"m":28.02,"w":0.095},{"seg":"b1","i":2,"c":5.848,"m":27.44,"w":0.09},{"seg":"b1","i":3,"c":5.747,"m":26.98,"w":0.085},{"seg":"b1","i":4,"c":5.644,"m":26.6,"w":0.08},{"seg":"b1","i":5,"c":5.547,"m":26.29,"w":0.08},{"seg":"b1","i":6,"c":5.425,"m":25.96,"w":0.075},{"seg":"b1","i":7,"c":5.266,"m":25.58,"w":0.07},{"seg":"b1","i":8,"c":5.164,"m":25.33,"w":0.07},{"seg":"b1","i":9,"c":5.047,"m":25.06,"w":0.07},{"seg":"b1","i":10,"c":4.963,"m":24.87,"w":0.07},{"seg":"b1","i":11,"c":4.883,"m":24.67,"w":0.07},{"seg":"b1","i":12,"c":4.771,"m":24.37,"w":0.075},{"seg":"b1","i":13,"c":4.659,"m":24.04,"w":0.085},{"seg":"b1","i":14,"c":4.565,"m":23.71,"w":0.1},{"seg":"b1","i":15,"c":4.481,"m":23.4,"w":0.12},{"seg":"b1","i":16,"c":4.435,"m":23.08,"w":0.15},{"seg":"b1","i":17,"c":4.407,"m":22.75,"w":0.18},{"seg":"b1","i":18,"c":4.397,"m":22.44,"w":0.19},{"seg":"b1","i":19,"c":4.425,"m":22.17,"w":0.19},{"seg":"b1","i":20,"c":4.481,"m":21.98,"w":0.19},{"seg":"b1","i":21,"c":4.575,"m":21.87,"w":0.19},{"seg":"b1","i":22,"c":4.724,"m":21.77,"w":0.19},{"seg":"b1","i":23,"c":4.827,"m":21.63,"w":0.19},{"seg":"b1","i":24,"c":4.893,"m":21.4,"w":0.19},{"seg":"b1","i":25,"c":4.93,"m":21.15,"w":0.19},{"seg":"b1","i":26,"c":4.958,"m":20.9,"w":0.19},{"seg":"b1","i":27,"c":4.977,"m":20.58,"w":0.19},{"seg":"b1","i":28,"c":5.023,"m":20.25,"w":0.19},{"seg":"b1","i":29,"c":5.042,"m":20.0,"w":0.18},{"seg":"b1","i":30,"c":5.09,"m":19.62,"w":0.17},{"seg":"b1","i":31,"c":5.2,"m":19.1,"w":0.16},{"seg":"b1","i":32,"c":5.3,"m":18.65,"w":0.15},{"seg":"b1","i":33,"c":5.44,"m":18.17,"w":0.15},{"seg":"b1","i":34,"c":5.66,"m":17.71,"w":0.15},{"seg":"b1","i":35,"c":5.96,"m":17.06,"w":0.15},{"seg":"b1","i":36,"c":6.24,"m":16.48,"w":0.15},{"seg":"b1","i":37,"c":6.46,"m":16.0,"w":0.15},{"seg":"b1","i":38,"c":6.58,"m":15.77,"w":0.15},
{"seg":"b2","i":0,"c":4.74,"m":18.8,"w":0.13},{"seg":"b2","i":1,"c":4.78,"m":18.92,"w":0.14},{"seg":"b2","i":2,"c":4.864,"m":18.92,"w":0.14},{"seg":"b2","i":3,"c":4.958,"m":18.79,"w":0.14},{"seg":"b2","i":4,"c":5.051,"m":18.63,"w":0.14},{"seg":"b2","i":5,"c":5.192,"m":18.38,"w":0.14},{"seg":"b2","i":6,"c":5.29,"m":18.1,"w":0.14},{"seg":"b2","i":7,"c":5.39,"m":17.79,"w":0.14},{"seg":"b2","i":8,"c":5.52,"m":17.37,"w":0.14},{"seg":"b2","i":9,"c":5.7,"m":16.83,"w":0.14},{"seg":"b2","i":10,"c":5.93,"m":16.31,"w":0.14},{"seg":"b2","i":11,"c":6.11,"m":16.0,"w":0.14},{"seg":"b2","i":12,"c":6.24,"m":15.77,"w":0.14}
]
},
"layer":[
{
 "data":{"name":"stars"},
 "mark":{"type":"circle","size":40,"opacity":0.58,"clip":true},
 "encoding":{
  "x":{"field":"c","type":"quantitative","scale":{"domain":[2.5,7.34],"nice":false,"zero":false},
   "axis":{"orient":"bottom","values":[2.6,2.8,3,3.2,3.4,3.6,3.8,4,4.2,4.4,4.6,4.8,5,5.2,5.4,5.6,5.8,6,6.2,6.4,6.6,6.8,7,7.2],
    "tickSize":{"condition":{"test":"datum.value % 1 === 0","value":-5},"value":-3},
    "labelExpr":"datum.value % 1 === 0 ? format(datum.value, 'd') : ''","labelPadding":14,"labelOverlap":false,"labelFlush":false,
    "title":"m\u00a0\u00a0\u00a0\u00a0\u00a0\u00a0\u00a0\u2009− m","titleFontSize":24,"titleX":170,"titleY":51,"titleAlign":"left","titleBaseline":"alphabetic"}},
  "y":{"field":"m","type":"quantitative","scale":{"domain":[16,28],"reverse":true,"nice":false,"zero":false},
   "axis":{"orient":"left","values":[16,16.5,17,17.5,18,18.5,19,19.5,20,20.5,21,21.5,22,22.5,23,23.5,24,24.5,25,25.5,26,26.5,27,27.5,28],
    "tickSize":{"condition":{"test":"datum.value % 2 === 0","value":-5},"value":-3},
    "labelExpr":"datum.value % 2 === 0 ? format(datum.value, 'd') : ''","labelPadding":12,"labelOverlap":false,
    "title":"m","titleFontSize":24,"titleX":-39,"titleY":354,"titleAlign":"left","titleBaseline":"alphabetic","titleAngle":-90}},
  "color":{"field":"d","type":"quantitative","scale":{"scheme":"inferno","domain":[0,0.9],"clamp":true},"legend":null},
  "order":{"field":"d","type":"quantitative"}
 }
},
{
 "data":{"name":"band"},
 "mark":{"type":"trail","color":"#ff0000","opacity":0.5,"clip":true},
 "encoding":{
  "x":{"field":"c","type":"quantitative","scale":{"domain":[2.5,7.34],"nice":false,"zero":false},
   "axis":{"orient":"top","values":[2.6,2.8,3,3.2,3.4,3.6,3.8,4,4.2,4.4,4.6,4.8,5,5.2,5.4,5.6,5.8,6,6.2,6.4,6.6,6.8,7,7.2],
    "tickSize":{"condition":{"test":"datum.value % 1 === 0","value":-5},"value":-3},"labels":false,"title":null}},
  "y":{"field":"m","type":"quantitative","scale":{"domain":[16,28],"reverse":true,"nice":false,"zero":false},
   "axis":{"orient":"left","domain":false,"ticks":false,"labels":false,"title":"F606W","titleFontSize":16,"titleX":-35,"titleY":331,"titleAlign":"left","titleBaseline":"alphabetic","titleAngle":-90}},
  "size":{"field":"w","type":"quantitative","scale":{"domain":[0,0.2],"range":[0,21.4]},"legend":null},
  "detail":{"field":"seg"},
  "order":{"field":"i","type":"quantitative"}
 }
},
{
 "data":{"name":"line"},
 "mark":{"type":"line","strokeWidth":4.5,"clip":true,"interpolate":"catmull-rom"},
 "encoding":{
  "x":{"field":"c","type":"quantitative","scale":{"domain":[2.5,7.34],"nice":false,"zero":false},
   "axis":{"orient":"bottom","domain":false,"ticks":false,"labels":false,"title":"F606W\u00a0\u00a0\u00a0\u00a0\u00a0\u00a0\u00a0\u00a0\u00a0\u00a0F160W","titleFontSize":16,"titleX":194,"titleY":55,"titleAlign":"left","titleBaseline":"alphabetic"}},
  "y":{"field":"m","type":"quantitative","scale":{"domain":[16,28],"reverse":true,"nice":false,"zero":false},"axis":null},
  "detail":{"field":"seg"},
  "order":{"field":"i","type":"quantitative"},
  "stroke":{"datum":"Age\u00a0\u00a0\u00a0\u00a0\u00a0= 12.4 ± 1.0 Gyr|[Fe/H]\u00a0\u00a0= −1.11 ± 0.1|E(606 − 160)\u00a0\u00a0= 3.38 ± 0.04|(m − M)₆₀₆\u00a0\u00a0= 18.55 ± 0.07","type":"nominal","scale":{"range":["#ff0000"]},
   "legend":{"orient":"none","legendX":47,"legendY":14,"title":null,"padding":0,"symbolType":"stroke","symbolSize":1,"symbolOpacity":0,"symbolStrokeWidth":0,"labelFontSize":16,"labelOffset":0,"labelLimit":600,"labelExpr":"split(datum.label, '|')"}},
  "strokeDash":{"datum":"iso","type":"nominal","scale":{"range":[[1,0]]},
   "legend":{"orient":"none","legendX":15,"legendY":35,"title":null,"padding":0,"symbolType":"stroke","symbolSize":1296,"symbolStrokeWidth":3.5,"symbolStrokeColor":"#ff0000","symbolOpacity":1,"labelFontSize":1,"labelOffset":0,"labelExpr":"''"}}
 }
}
],
"resolve":{"axis":{"x":"independent","y":"independent"}}
}
